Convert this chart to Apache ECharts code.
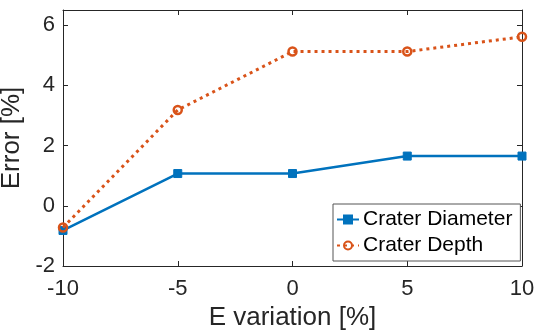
<!DOCTYPE html>
<html>
<head>
<meta charset="utf-8">
<script src="https://cdn.jsdelivr.net/npm/echarts@6/dist/echarts.min.js"></script>
<style>
html,body{margin:0;padding:0;background:#fff;}
#chart{width:536px;height:334px;}
</style>
</head>
<body>
<div id="chart"></div>
<script>
var xValues = [-10, -5, 0, 5, 10];
var diameterValues = [-0.82, 1.07, 1.07, 1.65, 1.65];
var depthValues = [-0.72, 3.18, 5.12, 5.12, 5.61];
var seriesNames = ['Crater Diameter', 'Crater Depth'];
var xTitle = 'E variation [%]';
var yTitle = 'Error [%]';

var FONT = '"Liberation Sans", Arial, Helvetica, sans-serif';
var AX = '#262626';
var BLUE = '#0072BD';
var ORANGE = '#D95319';

function pairs(xs, ys){ return xs.map(function(x,i){ return [x, ys[i]]; }); }

var chart = echarts.init(document.getElementById('chart'), null, {renderer:'canvas'});
var baseAxisLine = {show:true, onZero:false, lineStyle:{color:AX, width:1}};
chart.setOption({
  animation:false,
  backgroundColor:'#fff',
  grid:{left:63, right:14, top:10, bottom:68, containLabel:false, outerBoundsMode:'none'},
  xAxis:[{
    type:'value', min:-10, max:10, interval:5,
    name:xTitle, nameLocation:'middle', nameGap:30,
    nameTextStyle:{fontFamily:FONT, fontSize:26, color:AX},
    axisLine:baseAxisLine,
    axisTick:{show:true, inside:true, length:5, lineStyle:{color:AX}},
    axisLabel:{fontFamily:FONT, fontSize:22, color:AX, margin:12},
    splitLine:{show:false}
  },{
    type:'value', position:'top', min:-10, max:10, interval:5,
    axisLine:baseAxisLine,
    axisTick:{show:true, inside:true, length:5, lineStyle:{color:AX}},
    axisLabel:{show:false}, splitLine:{show:false}
  }],
  yAxis:[{
    type:'value', min:-2, max:6.5, interval:2,
    name:yTitle, nameLocation:'middle', nameGap:24, nameRotate:90,
    nameTextStyle:{fontFamily:FONT, fontSize:26, color:AX},
    axisLine:baseAxisLine,
    axisTick:{show:true, inside:true, length:5, lineStyle:{color:AX}},
    axisLabel:{fontFamily:FONT, fontSize:22, color:AX, margin:8,
      formatter:function(v){ return (Math.abs(v % 2) < 1e-9) ? String(v) : ''; }},
    splitLine:{show:false}
  },{
    type:'value', position:'right', min:-2, max:6.5, interval:2,
    axisLine:baseAxisLine,
    axisTick:{show:true, inside:true, length:5, lineStyle:{color:AX}},
    axisLabel:{show:false}, splitLine:{show:false}
  }],
  legend:{
    orient:'vertical', left:333, top:204,
    backgroundColor:'#fff', borderColor:'#555', borderWidth:1,
    padding:[5,8,5,3], itemGap:5, itemWidth:22, itemHeight:10,
    textStyle:{fontFamily:FONT, fontSize:21, color:'#000', lineHeight:21, padding:[0,0,0,-1]},
    data:seriesNames
  },
  series:[{
    name:seriesNames[0], type:'line', data:pairs(xValues, diameterValues),
    symbol:'rect', symbolSize:8,
    lineStyle:{color:BLUE, width:2.5},
    itemStyle:{color:BLUE, borderColor:BLUE, borderWidth:1},
    z:3
  },{
    name:seriesNames[1], type:'line', data:pairs(xValues, depthValues),
    symbol:'circle', symbolSize:8,
    lineStyle:{color:ORANGE, width:3, type:[3,4]},
    itemStyle:{color:'rgba(255,255,255,0)', borderColor:ORANGE, borderWidth:2.5},
    z:4
  }]
});
</script>
</body>
</html>
